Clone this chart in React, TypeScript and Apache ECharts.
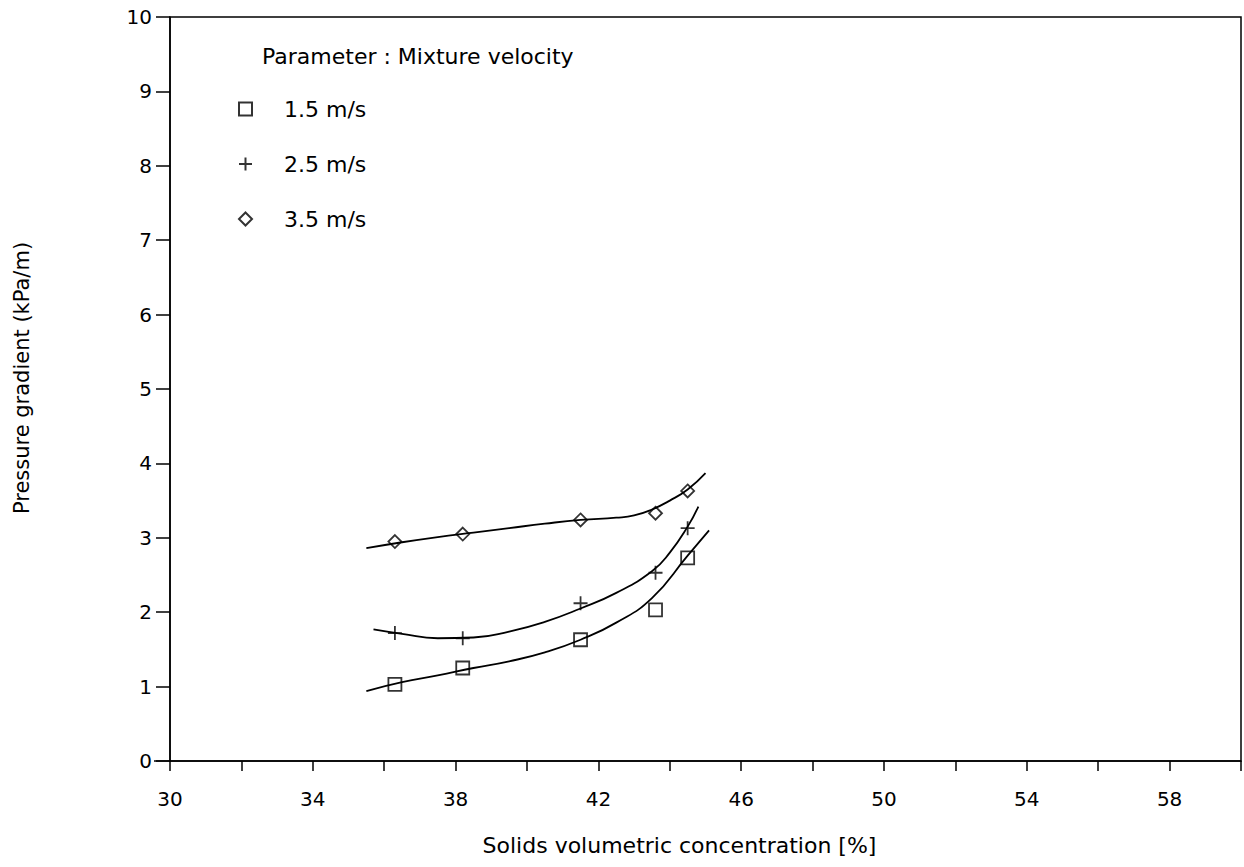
import React, { useEffect, useRef } from "react";
import * as echarts from "echarts";

// Measured points: solids volumetric concentration [%] vs pressure gradient [kPa/m]
const concentration = [36.3, 38.2, 41.5, 43.6, 44.5];
const grad15 = [1.03, 1.25, 1.63, 2.03, 2.73];
const grad25 = [1.72, 1.65, 2.12, 2.53, 3.13];
const grad35 = [2.95, 3.05, 3.24, 3.33, 3.63];

// Fitted trend curves for each mixture velocity
const fitX15 = [35.5, 36.5, 37.5, 38.5, 39.5, 40.5, 41.5, 42.5, 43.5, 44.5, 45.1];
const fitY15 = [0.94, 1.06, 1.15, 1.25, 1.34, 1.46, 1.63, 1.86, 2.19, 2.76, 3.1];
const fitX25 = [35.7, 36.5, 37.5, 38.5, 39.5, 40.5, 41.5, 42.5, 43.5, 44.0, 44.5, 44.8];
const fitY25 = [1.77, 1.71, 1.65, 1.66, 1.74, 1.87, 2.05, 2.26, 2.55, 2.8, 3.15, 3.42];
const fitX35 = [35.5, 36.5, 37.5, 38.5, 39.5, 40.5, 41.5, 42.5, 43.0, 43.5, 44.0, 44.5, 45.0];
const fitY35 = [2.86, 2.94, 3.01, 3.07, 3.13, 3.19, 3.24, 3.27, 3.3, 3.38, 3.5, 3.65, 3.87];

const velocityLabels = ["1.5 m/s", "2.5 m/s", "3.5 m/s"];
const xTickLabels = [30, 34, 38, 42, 46, 50, 54, 58];

const FONT = "DejaVu Sans";
const PLUS = "path://M0,6L12,6M6,0L6,12";

const pairs = (xs: number[], ys: number[]) => xs.map((x, i) => [x, ys[i]]);

export default function App() {
  const ref = useRef<HTMLDivElement>(null);

  useEffect(() => {
    if (!ref.current) return;
    const chart = echarts.init(ref.current, undefined, { renderer: "svg" });

    const marker = (name: string, ys: number[], symbol: string, size: number) => ({
      name,
      type: "scatter",
      data: pairs(concentration, ys),
      symbol,
      symbolSize: size,
      itemStyle: { color: "rgba(255,255,255,0)", borderColor: "#000", borderWidth: 1.8 },
      z: 3,
    });

    const curve = (name: string, xs: number[], ys: number[]) => ({
      name,
      type: "line",
      data: pairs(xs, ys),
      smooth: 0.5,
      showSymbol: false,
      symbol: "none",
      lineStyle: { color: "#000", width: 1.8 },
      z: 2,
    });

    chart.setOption({
      animation: false,
      backgroundColor: "#fff",
      textStyle: { fontFamily: FONT, color: "#000" },
      grid: {
        left: 170,
        right: 2,
        top: 17,
        bottom: 106,
        show: true,
        borderColor: "#000",
        borderWidth: 1.5,
        backgroundColor: "transparent",
      },
      title: {
        text: "Parameter : Mixture velocity",
        left: 257,
        top: 40,
        textStyle: { fontFamily: FONT, fontSize: 22, fontWeight: "normal", color: "#000" },
      },
      legend: {
        data: velocityLabels,
        orient: "vertical",
        left: 233,
        top: 93,
        itemWidth: 13,
        itemHeight: 13,
        itemGap: 33,
        textStyle: {
          fontFamily: FONT,
          fontSize: 22,
          color: "#000",
          padding: [0, 0, 0, 27],
        },
      },
      xAxis: {
        type: "value",
        min: 30,
        max: 60,
        interval: 2,
        name: "Solids volumetric concentration [%]",
        nameLocation: "middle",
        nameGap: 73,
        nameTextStyle: { fontFamily: FONT, fontSize: 22, color: "#000", padding: [0, 52, 0, 0] },
        axisLine: { lineStyle: { color: "#000", width: 1.5 } },
        axisTick: { show: true, length: 10, lineStyle: { color: "#000", width: 1.5 } },
        axisLabel: {
          fontFamily: FONT,
          fontSize: 20,
          color: "#000",
          margin: 28,
          formatter: (v: number) => (xTickLabels.includes(v) ? String(v) : ""),
        },
        splitLine: { show: false },
      },
      yAxis: {
        type: "value",
        min: 0,
        max: 10,
        interval: 1,
        name: "Pressure gradient (kPa/m)",
        nameLocation: "middle",
        nameRotate: 90,
        nameGap: 138,
        nameTextStyle: { fontFamily: FONT, fontSize: 21, color: "#000", padding: [0, 0, 0, 22] },
        axisLine: { lineStyle: { color: "#000", width: 1.5 } },
        axisTick: { show: true, length: 14, lineStyle: { color: "#000", width: 1.5 } },
        axisLabel: { fontFamily: FONT, fontSize: 20, color: "#000", margin: 18 },
        splitLine: { show: false },
      },
      graphic: [
        {
          type: "line",
          shape: { x1: 154, y1: 761, x2: 170, y2: 761 },
          style: { stroke: "#000", lineWidth: 1.5 },
        },
      ],
      series: [
        curve("1.5 m/s curve", fitX15, fitY15),
        curve("2.5 m/s curve", fitX25, fitY25),
        curve("3.5 m/s curve", fitX35, fitY35),
        marker(velocityLabels[0], grad15, "rect", 13),
        marker(velocityLabels[1], grad25, PLUS, 14),
        marker(velocityLabels[2], grad35, "diamond", 13),
      ],
    });

    return () => chart.dispose();
  }, []);

  return (
    <div
      ref={ref}
      style={{ position: "fixed", left: 0, top: 0, width: 1244, height: 867, background: "#fff" }}
    />
  );
}
